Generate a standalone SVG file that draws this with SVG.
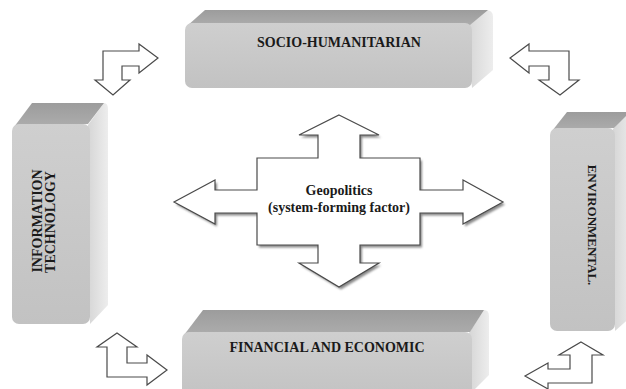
<svg xmlns="http://www.w3.org/2000/svg" width="626" height="389" viewBox="0 0 626 389">
<defs>
<linearGradient id="gFront" x1="0" y1="0" x2="0" y2="1">
<stop offset="0" stop-color="#cfcfcf"/>
<stop offset="1" stop-color="#c2c2c2"/>
</linearGradient>
<linearGradient id="gTop" x1="0" y1="0" x2="0" y2="1">
<stop offset="0" stop-color="#9c9c9c"/>
<stop offset="1" stop-color="#adadad"/>
</linearGradient>
<linearGradient id="gSide" x1="0" y1="0" x2="1" y2="0">
<stop offset="0" stop-color="#d6d6d6"/>
<stop offset="1" stop-color="#ededed"/>
</linearGradient>
<filter id="blur" x="-10%" y="-10%" width="120%" height="120%">
<feGaussianBlur stdDeviation="0.8"/>
</filter>
</defs>
<style>
.front{fill:url(#gFront);}
.top{fill:url(#gTop);}
.side{fill:url(#gSide);}
.lbl{font-family:"Liberation Serif","Times New Roman",serif;font-weight:bold;font-size:14px;fill:#1a1a1a;text-anchor:middle;}
.arr{fill:#ffffff;stroke:#4a4a4a;stroke-width:1.2;stroke-linejoin:miter;}
.shadow{fill:#8a8a8a;filter:url(#blur);}
</style>
<rect width="626" height="389" fill="#ffffff"/>

<g id="node-socio">
<path class="side" d="M468,24 L486,10 Q493,10 493,17 L493,70 L472,88 Z"/>
<polygon class="top" points="187,26 205,10 488,10 470,25"/>
<rect class="front" x="185" y="23" width="287" height="65" rx="7"/>
<text class="lbl" x="339" y="47">SOCIO-HUMANITARIAN</text>
</g>

<g id="node-it">
<path class="side" d="M88,125 L104,103 Q108,103 108,109 L108,305 L90,324 Z"/>
<polygon class="top" points="14,127 32,103 104,103 88,124"/>
<rect class="front" x="12" y="124" width="78" height="200" rx="7"/>
<text class="lbl" transform="translate(42,221) rotate(-90)">INFORMATION</text>
<text class="lbl" transform="translate(55,222) rotate(-90)">TECHNOLOGY</text>
</g>

<g id="node-env">
<path class="side" d="M613,129 L628,112 L634,112 L634,314 L615,331 Z"/>
<polygon class="top" points="552,131 567,112 630,112 614,128"/>
<rect class="front" x="550" y="128" width="65" height="203" rx="7"/>
<text class="lbl" font-size="13" style="font-size:13px" transform="translate(588,225) rotate(90)">ENVIRONMENTAL.</text>
</g>

<g id="node-fin">
<path class="side" d="M469,333 L484,310 Q489,310 489,316 L489,375 L472,392 Z"/>
<polygon class="top" points="184,335 203,310 484,310 470,332"/>
<rect class="front" x="182" y="332" width="290" height="70" rx="7"/>
<text class="lbl" x="327" y="352">FINANCIAL AND ECONOMIC</text>
</g>

<g id="node-geo">
<polygon class="shadow" transform="translate(2,2.5)" points="339,115 379,135 360,135 360,158 420,158 420,190 463,190 463,180 503,202 463,224 463,213 420,213 420,245 360,245 360,263 379,263 339,287 299,263 318,263 318,245 257,245 257,213 215,213 215,224 174,202 215,180 215,190 257,190 257,158 318,158 318,135 299,135"/>
<polygon class="arr" points="339,115 379,135 360,135 360,158 420,158 420,190 463,190 463,180 503,202 463,224 463,213 420,213 420,245 360,245 360,263 379,263 339,287 299,263 318,263 318,245 257,245 257,213 215,213 215,224 174,202 215,180 215,190 257,190 257,158 318,158 318,135 299,135"/>
<text class="lbl" x="339" y="195">Geopolitics</text>
<text class="lbl" x="339" y="212">(system-forming factor)</text>
</g>

<g id="connectors">
<polygon class="arr" points="103,51 139,51 139,44 158,58 139,73 139,66 122,66 122,80 130,80 113,95 95,80 103,80"/>
<polygon class="arr" points="569,51 529,51 529,44 510,58 529,73 529,66 549,66 549,80 539,80 560,95 579,80 569,80"/>
<polygon class="arr" points="117,333 137,347 127,347 127,363 147,363 147,355 167,370 147,385 147,377 107,377 107,347 97,347"/>
<polygon class="arr" points="581,342 603,355 592,355 592,383 548,383 548,389 525,376 548,363 548,369 570,369 570,355 559,355"/>
</g>
</svg>
